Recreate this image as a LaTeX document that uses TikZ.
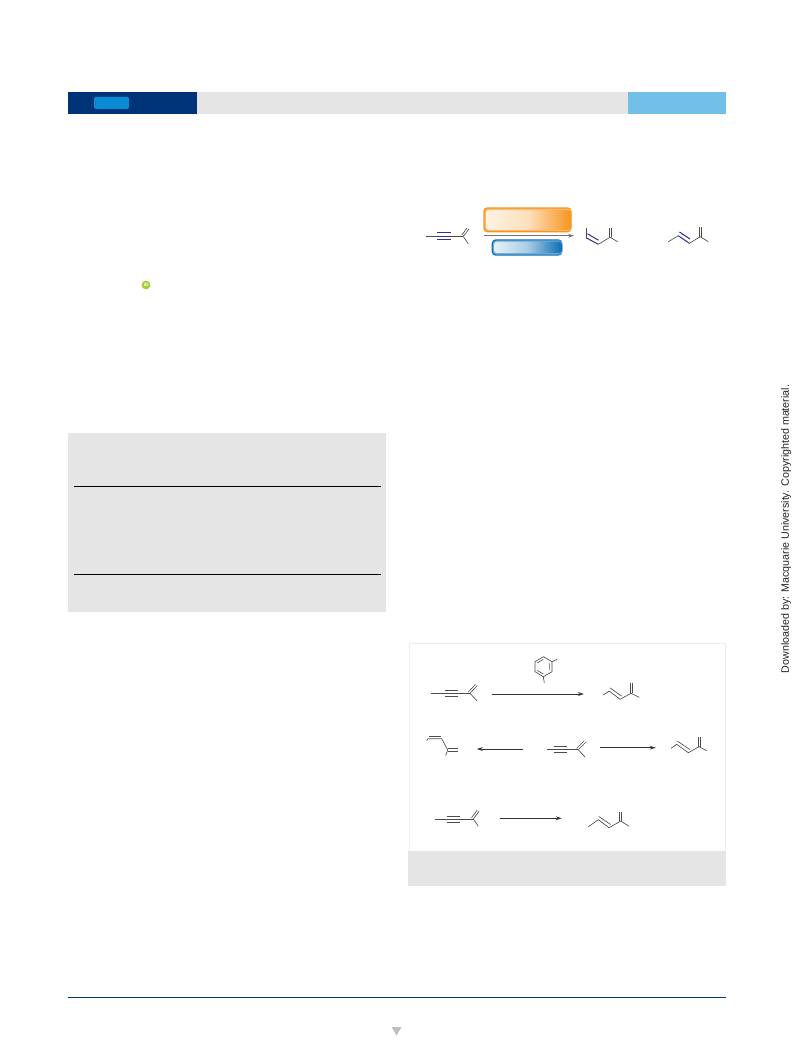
\documentclass[tikz,border=0pt]{standalone}
\usepackage{fontspec}
\setmainfont{Liberation Sans}
\usetikzlibrary{arrows.meta}
\definecolor{navy}{HTML}{003478}
\definecolor{pill}{HTML}{0A8AD2}
\definecolor{sky}{HTML}{72BFEA}
\definecolor{panel}{HTML}{E5E5E5}
\definecolor{frameline}{HTML}{EDEDED}
\definecolor{bondblue}{HTML}{2E3192}
\definecolor{oranger}{HTML}{F7941D}
\definecolor{bluer}{HTML}{0A6DB5}
\definecolor{orcid}{HTML}{A6CE39}
\tikzset{
  x=1pt,y=-1pt,
  bond/.style={draw=black!70,line width=0.65pt},
  bondb/.style={draw=bondblue,line width=1pt},
  rxn/.style={draw=black!80,line width=0.85pt,-{Stealth[length=6pt,width=3.8pt]}},
  rxnbar/.style={draw=black!55,line width=1.3pt,-{Stealth[length=6pt,width=4pt]}},
  band/.style={draw=none,inner sep=0pt},
}
\newcommand{\alkyne}[7]{%
  \draw[bond] (#1,#2) -- (#5,#2);
  \draw[bond] (#3,#2-2.9) -- (#4,#2-2.9);
  \draw[bond] (#3,#2+2.9) -- (#4,#2+2.9);
  \draw[bond] (#5,#2) -- (#6,#2-7.7);
  \draw[bond] (#5-1.8,#2-1.2) -- (#6-1.8,#2-8.9);
  \draw[bond] (#5,#2) -- (#7,#2+7.3);
}
\newcommand{\diene}[8]{%
  \draw[bond] (#1,#2) -- (#3,#4) -- (#5,#6) -- (#7,#8);
  \draw[bond] (#3+0.6,#4-3.2) -- (#5+1.6,#6-3.2);
}
\begin{document}
\begin{tikzpicture}
\useasboundingbox (0,0) rectangle (793,1059);
\fill[white] (0,0) rectangle (793,1059);

% header band
\fill[panel] (197,92) rectangle (628,114.5);
\fill[navy] (68,92) rectangle (197,114.5);
\fill[sky] (628,92) rectangle (726,114.5);
\fill[pill,rounded corners=1.5pt] (94,97) rectangle (129,109);

% ORCID badge
\fill[orcid] (146,285) circle (4.4);
\node[band,text=white,font=\fontsize{4.5}{5}\selectfont\bfseries] (orcidmark) at (146,285) {iD};

% grey panel, left
\fill[panel] (68,433) rectangle (386,612);
\draw[black,line width=0.8pt] (74,486.5) -- (381,486.5);
\draw[black,line width=0.8pt] (74,574.5) -- (381,574.5);

% graphical abstract
\fill[oranger,rounded corners=4pt] (483.3,207.3) rectangle (571.7,232.3);
\fill[oranger!65,rounded corners=3.5pt] (484.6,208.6) rectangle (571.7,231);
\shade[rounded corners=3pt,left color=oranger!12,right color=oranger,middle color=oranger!30] (486,210) rectangle (571.2,229.8);
\fill[bluer,rounded corners=4pt] (491.7,239.3) rectangle (562.3,255.7);
\fill[bluer!60,rounded corners=3.5pt] (492.8,240.4) rectangle (562.3,254.6);
\shade[rounded corners=3pt,left color=bluer!10,right color=bluer,middle color=bluer!35] (494,241.6) rectangle (561.8,253.2);
\coordinate (gaL) at (484.3,235.7);
\coordinate (gaR) at (574,235.7);
\draw[rxnbar] (gaL) -- (gaR);
% abstract: alkyne
\draw[bond] (426,236.3) -- (463.3,236.3);
\draw[bondb] (436.7,232.7) -- (451,232.7);
\draw[bondb] (436.7,236.3) -- (451,236.3);
\draw[bondb] (436.7,240) -- (451,240);
\draw[bond] (463.3,236.3) -- (469,229);
\draw[bond] (461.8,235) -- (467,228);
\draw[bond] (463.3,236.3) -- (468.3,244);
% abstract: Z product
\draw[bond] (586,228.3) -- (586,237.7);
\draw[bondb] (586,237.7) -- (598.3,244.3);
\draw[bondb] (587.5,233.8) -- (598.5,240.2);
\draw[bond] (598.3,244.3) -- (610,237.3);
\draw[bond] (609,237.3) -- (609,227.7);
\draw[bond] (611,237.3) -- (611,227.7);
\draw[bond] (610,237.3) -- (617.7,241.7);
% abstract: E product
\draw[bond] (668.3,241.7) -- (678.3,235.7);
\draw[bondb] (678.3,235.7) -- (689.3,243.3);
\draw[bondb] (679.5,232) -- (690,239);
\draw[bond] (689.3,243.3) -- (700.3,236.7);
\draw[bond] (699.3,236.7) -- (699.3,227.3);
\draw[bond] (701.3,236.7) -- (701.3,227.3);
\draw[bond] (700.3,236.7) -- (708.3,241.7);

% scheme frame
\draw[frameline,line width=0.8pt] (409.3,851) -- (409.3,642.9) -- (725.3,642.9) -- (725.3,851);
\fill[panel] (408,851) rectangle (726,885.5);

% row 1
\alkyne{431}{693.3}{445}{458.3}{470}{477.3}{476.7}
\coordinate (r1a) at (491.7,694);
\coordinate (r1b) at (584,694);
\draw[rxn] (r1a) -- (r1b);
\draw[bond] (535,661.7) -- (543.3,656.7) -- (552,661.7) -- (552,671.7) -- (543.3,676.7) -- (535,671.7) -- cycle;
\draw[bond] (537.3,662.9) -- (543.3,659.4) (549.6,663.3) -- (549.6,670.1) (537.3,670.5) -- (543.3,674);
\draw[bond] (552,661.7) -- (557.3,659.3);
\draw[bond] (543.3,676.7) -- (544.3,682.7);
\diene{603.3}{695}{609.3}{691}{620}{699.3}{631}{693.3}
\draw[bond] (630,693.3) -- (630,683.3);
\draw[bond] (632,693.3) -- (632,683.3);
\draw[bond] (631,693.3) -- (639.3,697.3);

% row 2
\draw[bond] (426.7,740.5) -- (428,738.7) -- (441.7,738.7) -- (447.7,750);
\draw[bond] (428.5,736.3) -- (441,736.3);
\draw[bond] (447.7,748.8) -- (457.7,748.8);
\draw[bond] (447.7,751.2) -- (457.7,751.2);
\draw[bond] (447.7,750) -- (445.7,755.7);
\coordinate (r2la) at (523.3,749);
\coordinate (r2lb) at (476.7,749);
\draw[rxn] (r2la) -- (r2lb);
\alkyne{546.7}{749.7}{554}{567.3}{578.3}{586}{585}
\coordinate (r2ra) at (599.7,747.7);
\coordinate (r2rb) at (655.7,747.7);
\draw[rxn] (r2ra) -- (r2rb);
\diene{671}{748.3}{676.7}{744.3}{688.3}{752.7}{699}{746.7}
\draw[bond] (698,746.7) -- (698,737.3);
\draw[bond] (700,746.7) -- (700,737.3);
\draw[bond] (699,746.7) -- (706.7,750.7);

% row 3
\alkyne{435}{819}{446.7}{460}{473.3}{479}{478.3}
\coordinate (r3a) at (500,818.3);
\coordinate (r3b) at (561.7,818.3);
\draw[rxn] (r3a) -- (r3b);
\diene{588.3}{826.7}{598.3}{819.7}{609}{827.7}{620.7}{821}
\draw[bond] (619.7,821) -- (619.7,811.7);
\draw[bond] (621.7,821) -- (621.7,811.7);
\draw[bond] (620.7,821) -- (629,826.3);

% footer
\draw[navy,line width=0.8pt] (68,997) -- (726,997);
\fill[black!25] (391.5,1027) -- (401.5,1027) -- (396.5,1035.5) -- cycle;

% rotated notice
\node[band,rotate=90,text=black!85,font=\fontsize{10.7}{12}\selectfont] (notice) at (786,529) {Downloaded by: Macquarie University. Copyrighted material.};
\end{tikzpicture}
\end{document}
